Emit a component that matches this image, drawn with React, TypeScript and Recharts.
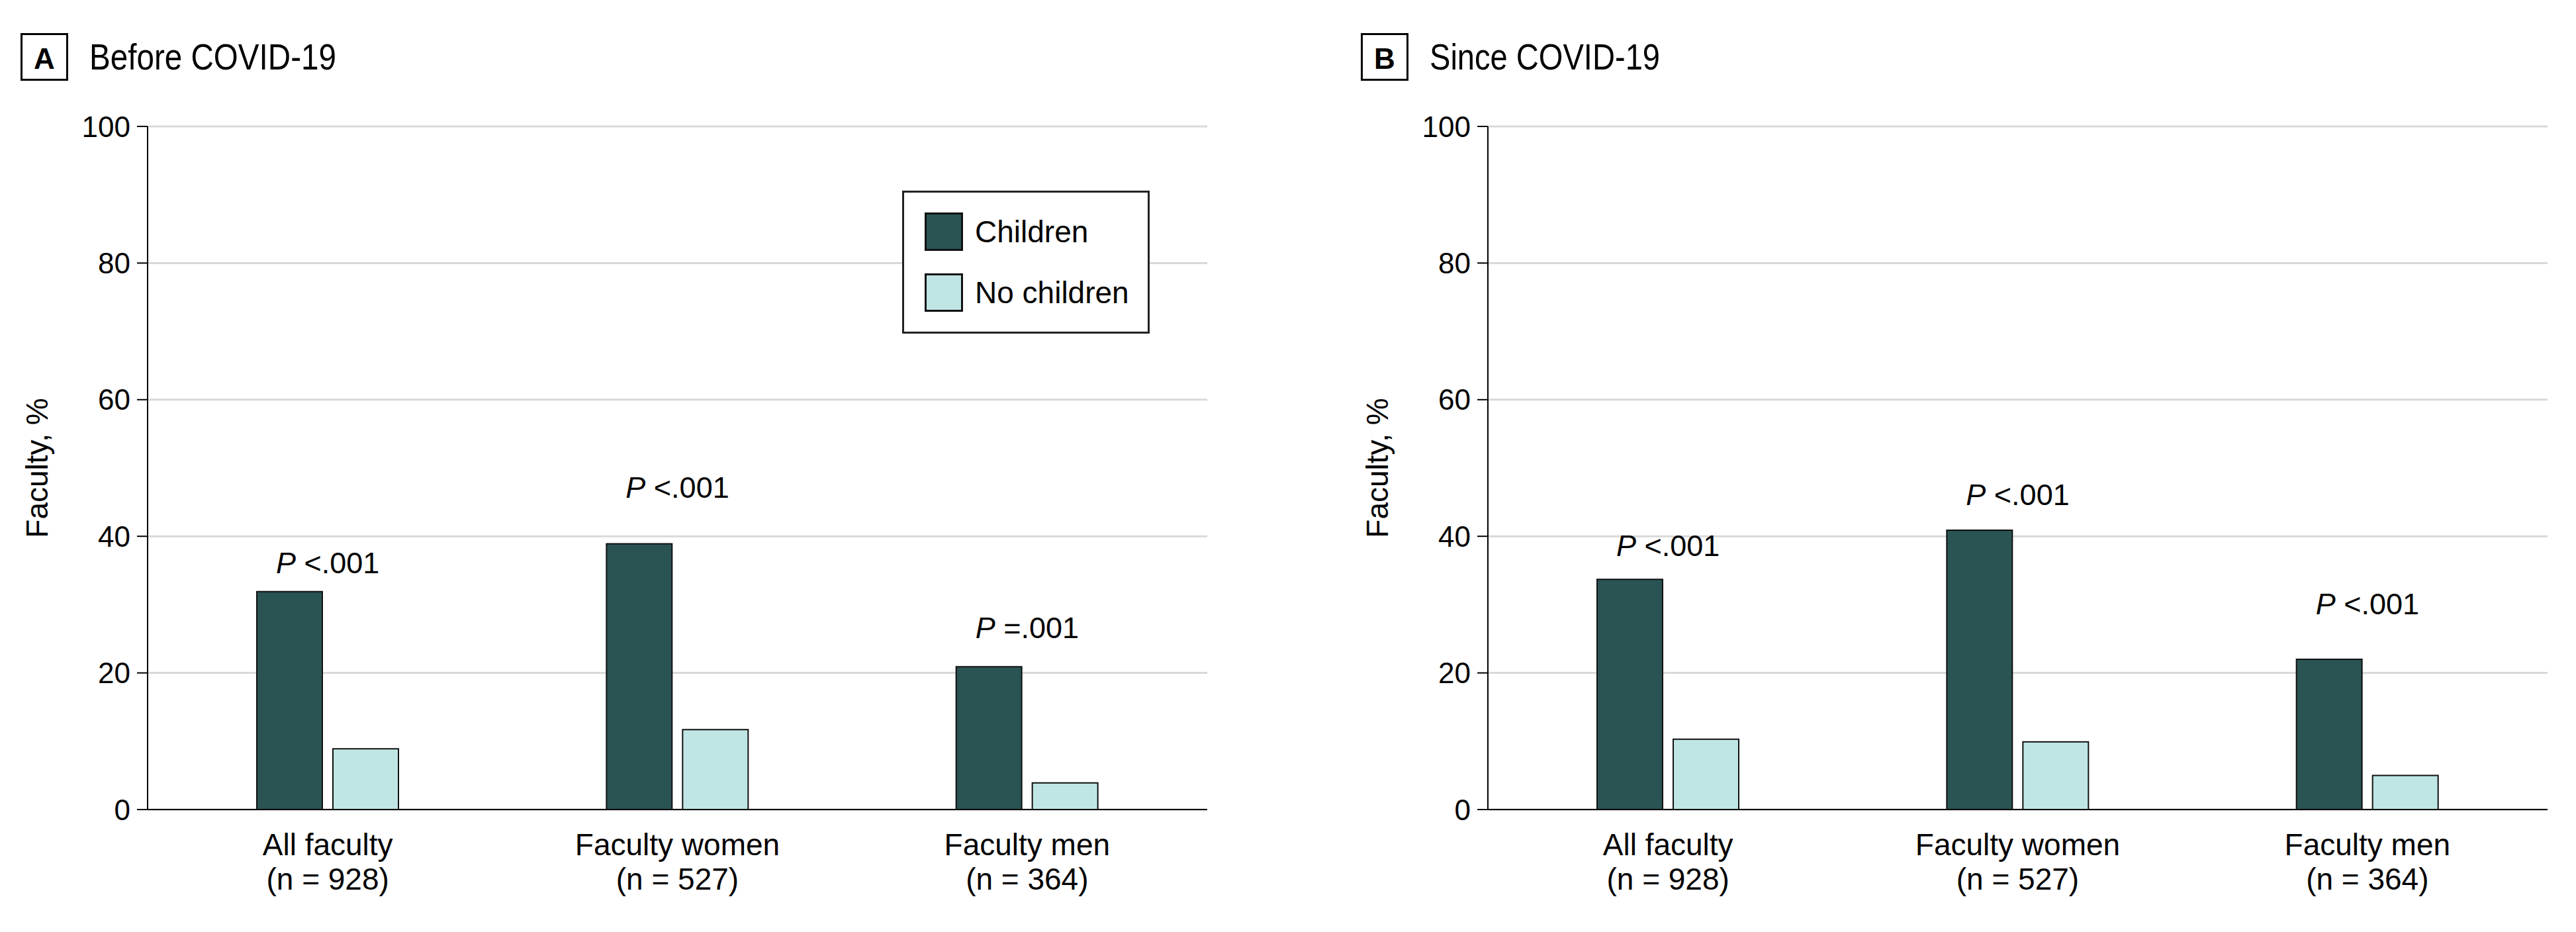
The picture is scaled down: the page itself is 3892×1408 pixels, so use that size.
import { BarChart, Bar, XAxis, YAxis, CartesianGrid, Legend, ReferenceDot } from "recharts";

// shared axis content
const categories = ["All faculty", "Faculty women", "Faculty men"];
const groupSizes = ["(n = 928)", "(n = 527)", "(n = 364)"];
const yTicks = [0, 20, 40, 60, 80, 100];

// panel A: before COVID-19 (% of faculty)
const childrenBefore = [31.9, 38.9, 20.9];
const noChildrenBefore = [8.9, 11.7, 3.9];
const pTextBefore = ["<.001", "<.001", "=.001"];
const pLevelBefore = [34.6, 45.6, 25.1];

// panel B: since COVID-19 (% of faculty)
const childrenSince = [33.7, 40.9, 22.0];
const noChildrenSince = [10.3, 9.9, 5.0];
const pTextSince = ["<.001", "<.001", "<.001"];
const pLevelSince = [37.1, 44.6, 28.6];

const DARK = "#2a5353";
const LIGHT = "#bfe6e5";
const FONT = '"Liberation Sans", Arial, sans-serif';

const CHART_W = 1867;
const CHART_H = 1408;

function CategoryTick({ x, y, payload }: any) {
  const i = categories.indexOf(payload.value);
  return (
    <g>
      <text x={x} y={y + 69} textAnchor="middle" fontSize={46} fill="#000">
        {payload.value}
      </text>
      <text x={x} y={y + 121} textAnchor="middle" fontSize={46} fill="#000">
        {groupSizes[i]}
      </text>
    </g>
  );
}

function YLabel({ viewBox }: any) {
  const cx = viewBox.x + 56;
  const cy = viewBox.y + viewBox.height / 2;
  return (
    <text
      x={cx}
      y={cy}
      transform={`rotate(-90, ${cx}, ${cy})`}
      textAnchor="middle"
      dominantBaseline="central"
      fontSize={46}
      fill="#000"
    >
      Faculty, %
    </text>
  );
}

function LegendBox({ payload }: any) {
  return (
    <div
      style={{
        width: 374,
        height: 216,
        boxSizing: "border-box",
        border: "3px solid #222",
        background: "#fff",
        position: "relative",
        fontFamily: FONT,
      }}
    >
      {(payload || []).map((entry: any, i: number) => (
        <div
          key={entry.value}
          style={{ position: "absolute", left: 31, top: 30 + i * 92, display: "flex", alignItems: "center" }}
        >
          <span
            style={{
              width: 58,
              height: 58,
              boxSizing: "border-box",
              border: "3px solid #111",
              background: entry.color,
              display: "inline-block",
            }}
          />
          <span style={{ marginLeft: 18, fontSize: 46, lineHeight: "58px", color: "#000" }}>{entry.value}</span>
        </div>
      ))}
    </div>
  );
}

function PValue({ cx, cy, text }: any) {
  return (
    <text x={cx} y={cy} textAnchor="middle" fontSize={45} fill="#000">
      <tspan fontStyle="italic">P</tspan> {text}
    </text>
  );
}

interface PanelProps {
  letter: string;
  title: string;
  titleWidth: number;
  left: number;
  childrenValues: number[];
  noChildrenValues: number[];
  pText: string[];
  pLevel: number[];
  showLegend?: boolean;
}

function Panel({
  letter,
  title,
  titleWidth,
  left,
  childrenValues,
  noChildrenValues,
  pText,
  pLevel,
  showLegend,
}: PanelProps) {
  const data = categories.map((c, i) => ({
    category: c,
    children: childrenValues[i],
    noChildren: noChildrenValues[i],
  }));

  return (
    <div style={{ position: "absolute", left, top: 0, width: CHART_W, height: CHART_H }}>
      {/* panel header: boxed letter + condensed title */}
      <svg width={700} height={140} style={{ position: "absolute", left: 0, top: 0 }}>
        <rect x={32.5} y={51.5} width={69} height={69} fill="none" stroke="#000" strokeWidth={3} />
        <text x={67} y={104} textAnchor="middle" fontSize={44} fontWeight="bold" fill="#000">
          {letter}
        </text>
        <text x={135} y={105} fontSize={56} fill="#000" textLength={titleWidth} lengthAdjust="spacingAndGlyphs">
          {title}
        </text>
      </svg>
      <BarChart
        width={CHART_W}
        height={CHART_H}
        data={data}
        margin={{ top: 191, right: 43, bottom: 35, left: 0 }}
        barGap={16}
        style={{ position: "absolute", left: 0, top: 0 }}
      >
        <CartesianGrid vertical={false} stroke="#d9d9d9" strokeWidth={3} />
        <XAxis
          dataKey="category"
          height={150}
          interval={0}
          padding={{ left: 8, right: 8 }}
          tickLine={false}
          tickSize={0}
          tickMargin={0}
          axisLine={{ stroke: "#000", strokeWidth: 2 }}
          tick={<CategoryTick />}
        />
        <YAxis
          width={223}
          domain={[0, 100]}
          ticks={yTicks}
          interval={0}
          tickSize={16}
          tickMargin={10}
          axisLine={{ stroke: "#000", strokeWidth: 2 }}
          tickLine={{ stroke: "#000", strokeWidth: 2 }}
          tick={{ fill: "#000", fontSize: 44 }}
          label={{ position: "center", content: <YLabel /> }}
        />
        {showLegend && (
          <Legend
            layout="vertical"
            align="center"
            verticalAlign="middle"
            wrapperStyle={{ left: 1363, top: 288, width: 374 }}
            content={<LegendBox />}
          />
        )}
        <Bar
          dataKey="children"
          name="Children"
          fill={DARK}
          stroke="#111"
          strokeWidth={2}
          barSize={99}
          isAnimationActive={false}
        />
        <Bar
          dataKey="noChildren"
          name="No children"
          fill={LIGHT}
          stroke="#111"
          strokeWidth={2}
          barSize={99}
          isAnimationActive={false}
        />
        {categories.map((c, i) => (
          <ReferenceDot
            key={c}
            x={c}
            y={pLevel[i]}
            r={1}
            ifOverflow="visible"
            shape={(props: any) => <PValue cx={props.cx} cy={props.cy} text={pText[i]} />}
          />
        ))}
      </BarChart>
    </div>
  );
}

export default function App() {
  return (
    <div
      style={{
        position: "absolute",
        left: 0,
        top: 0,
        width: 3892,
        height: 1408,
        background: "#fff",
        fontFamily: FONT,
        overflow: "hidden",
      }}
    >
      <Panel
        letter="A"
        title="Before COVID-19"
        titleWidth={373}
        left={0}
        childrenValues={childrenBefore}
        noChildrenValues={noChildrenBefore}
        pText={pTextBefore}
        pLevel={pLevelBefore}
        showLegend
      />
      <Panel
        letter="B"
        title="Since COVID-19"
        titleWidth={348}
        left={2025}
        childrenValues={childrenSince}
        noChildrenValues={noChildrenSince}
        pText={pTextSince}
        pLevel={pLevelSince}
      />
    </div>
  );
}
